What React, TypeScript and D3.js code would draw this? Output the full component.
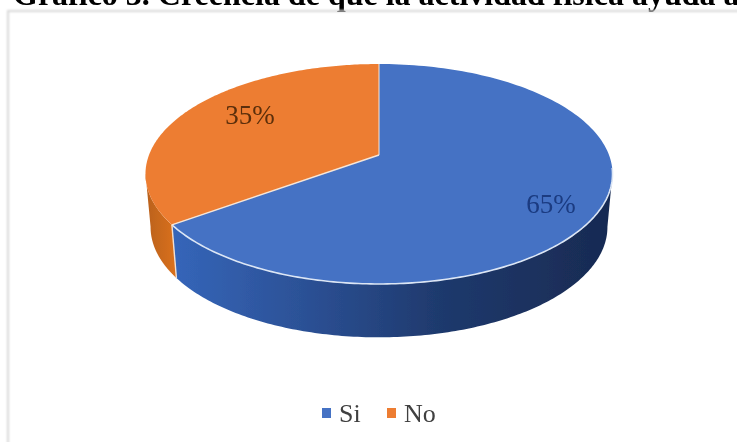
import React from "react";
import * as d3 from "d3";

const categories = ["Si", "No"];
const shares = [65, 35];
const topColors = ["#4472c4", "#ed7d31"];
const titleText = "Gráfico 3. Creencia de que la actividad física ayuda a";

const WIDTH = 737;
const HEIGHT = 442;
const SERIF = "'Liberation Serif', serif";

// Perspective-projected disc: k foreshortens the far edge relative to the near edge.
const k = 0.1727;
const topFace = { x0: 379, y0: 155, rx: 230, ry: 106.7 };
const baseFace = { x0: 379, y0: 208, rx: 225, ry: 107 };

type Face = typeof topFace;

function project(face: Face, angle: number): [number, number] {
  const w = 1 + k * Math.cos(angle);
  return [
    face.x0 + (face.rx * Math.sin(angle)) / w,
    face.y0 - (face.ry * Math.cos(angle)) / w,
  ];
}

function arcPoints(face: Face, a0: number, a1: number): [number, number][] {
  return d3.range(0, 1.0001, 1 / 160).map((t) => project(face, a0 + (a1 - a0) * t));
}

const line = d3.line();

const pieAngles = d3.pie<number>().sort(null)(shares);

// The wall is visible only on the near half of the disc, between the two side extremes.
const wallStart = Math.PI / 2 + 0.17;
const wallEnd = (3 * Math.PI) / 2 - 0.17;

function wallPath(a0: number, a1: number): string {
  const from = Math.max(a0, wallStart);
  const to = Math.min(a1, wallEnd);
  if (to <= from) return "";
  const upper = arcPoints(topFace, from, to);
  const lower = arcPoints(baseFace, to, from);
  return `${line([...upper, ...lower])}Z`;
}

function slicePath(a0: number, a1: number): string {
  const apex: [number, number] = [topFace.x0, topFace.y0];
  return `${line([apex, ...arcPoints(topFace, a0, a1)])}Z`;
}

export default function App() {
  const legendX = d3.scalePoint<string>().domain(categories).range([322, 387]);
  const edgeFront = arcPoints(topFace, wallStart - 0.05, pieAngles[0].endAngle);
  const boundary = project(topFace, pieAngles[0].endAngle);
  const labelPositions: [number, number][] = [
    [551, 213],
    [250, 124],
  ];
  const labelColors = ["#1a3a80", "#5a2e0a"];

  return (
    <svg
      width={WIDTH}
      height={HEIGHT}
      viewBox={`0 0 ${WIDTH} ${HEIGHT}`}
      style={{ position: "absolute", left: 0, top: 0, background: "#fff" }}
    >
      <defs>
        <linearGradient id="blueWall" gradientUnits="userSpaceOnUse" x1={170} x2={612} y1={0} y2={0}>
          <stop offset="0" stopColor="#3566ba" />
          <stop offset="0.3" stopColor="#2c5196" />
          <stop offset="0.6" stopColor="#1f3a6e" />
          <stop offset="1" stopColor="#182a52" />
        </linearGradient>
        <linearGradient id="orangeWall" gradientUnits="userSpaceOnUse" x1={145} x2={175} y1={0} y2={0}>
          <stop offset="0" stopColor="#b9611d" />
          <stop offset="1" stopColor="#d9701f" />
        </linearGradient>
        <filter id="soft" x="-5%" y="-5%" width="110%" height="110%">
          <feGaussianBlur stdDeviation="0.6" />
        </filter>
        <filter id="frameGlow" x="-5%" y="-5%" width="110%" height="110%">
          <feGaussianBlur stdDeviation="0.8" />
        </filter>
      </defs>

      <text
        x={13}
        y={4.5}
        fontFamily={SERIF}
        fontWeight="bold"
        fontSize={32}
        fill="#000"
        filter="url(#soft)"
      >
        {titleText}
      </text>

      {/* Chart frame with its soft edge */}
      <path
        d="M8 445V11H740"
        fill="none"
        stroke="#d8d8d8"
        strokeWidth={2}
        filter="url(#frameGlow)"
      />

      <g filter="url(#soft)">
        {pieAngles.map((d, i) => (
          <path key={`wall-${i}`} d={wallPath(d.startAngle, d.endAngle)} fill={i === 0 ? "url(#blueWall)" : "url(#orangeWall)"} />
        ))}
        {pieAngles.map((d, i) => (
          <path key={`top-${i}`} d={slicePath(d.startAngle, d.endAngle)} fill={topColors[i]} />
        ))}
        {/* Light seams along the near rim and between the slices */}
        <path d={line(edgeFront) ?? ""} fill="none" stroke="#dce6f5" strokeWidth={1.6} />
        <path
          d={line([[topFace.x0, topFace.y0], boundary]) ?? ""}
          fill="none"
          stroke="#f6e6d8"
          strokeWidth={1.4}
        />
        <path
          d={line([boundary, project(baseFace, pieAngles[0].endAngle)]) ?? ""}
          fill="none"
          stroke="#f2dfcf"
          strokeWidth={1.4}
        />
        <path
          d={line([[topFace.x0, topFace.y0], project(topFace, 0)]) ?? ""}
          fill="none"
          stroke="#f6e6d8"
          strokeWidth={1}
        />

        {shares.map((v, i) => (
          <text
            key={`label-${i}`}
            x={labelPositions[i][0]}
            y={labelPositions[i][1]}
            textAnchor="middle"
            fontFamily={SERIF}
            fontSize={27}
            fill={labelColors[i]}
          >
            {v}%
          </text>
        ))}

        {categories.map((c, i) => (
          <g key={c}>
            <rect x={legendX(c)!} y={408} width={9} height={10} fill={topColors[i]} />
            <text x={legendX(c)! + 17} y={422} fontFamily={SERIF} fontSize={26} fill="#404040">
              {c}
            </text>
          </g>
        ))}
      </g>
    </svg>
  );
}
